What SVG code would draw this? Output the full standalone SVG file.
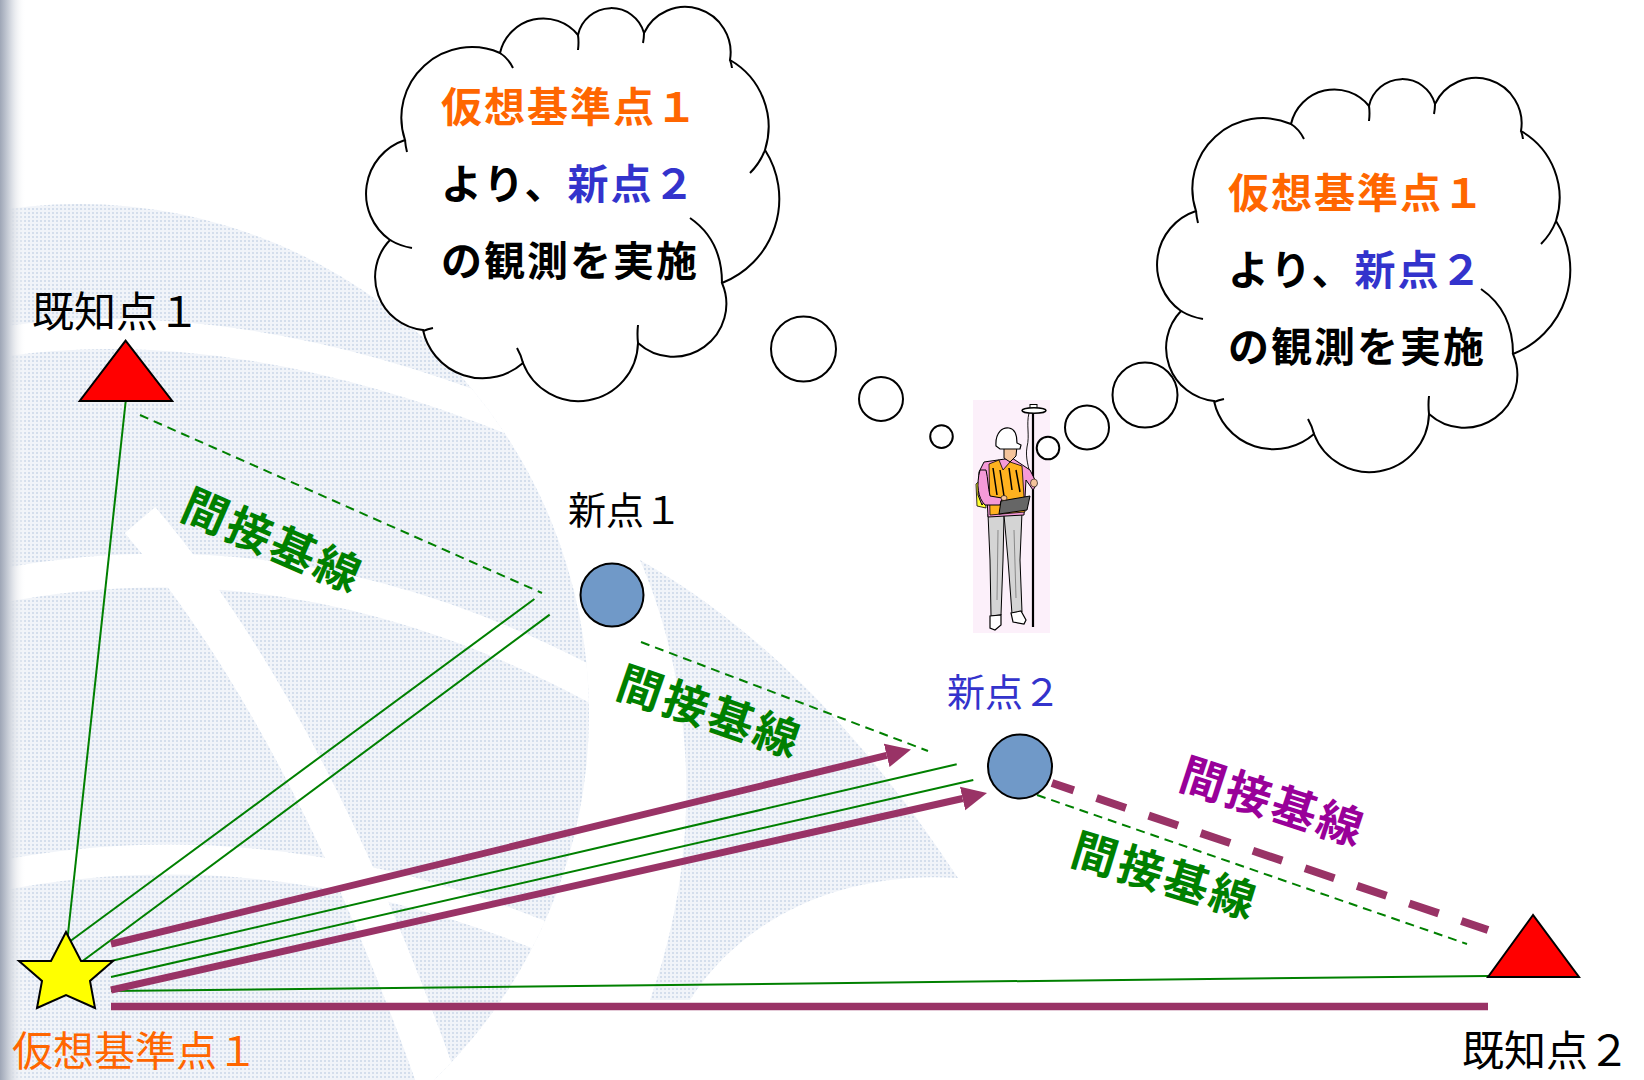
<svg xmlns="http://www.w3.org/2000/svg" xmlns:xlink="http://www.w3.org/1999/xlink" width="1644" height="1080" viewBox="0 0 1644 1080">
  <style>
    .lbl { font-family: 'Noto Sans CJK JP', sans-serif; font-weight: 400; }
    .bold { font-family: 'Noto Sans CJK JP', sans-serif; font-weight: 700; }
    .g-solid { stroke: #008000; stroke-width: 2; fill: none; }
    .g-dash { stroke: #008000; stroke-width: 2; fill: none; stroke-dasharray: 9 6; }
    .p-solid { stroke: #993366; stroke-width: 7; fill: none; }
    .p-dash { stroke: #993366; stroke-width: 8; fill: none; stroke-dasharray: 31 24; }
    .outline { stroke: #000; stroke-width: 2; }
    .cloud { fill: #fff; stroke: #000; stroke-width: 2; }
    .tail { fill: none; stroke: #000; stroke-width: 2; }
  </style>
  <defs>
    <pattern id="dots" width="4" height="4" patternUnits="userSpaceOnUse">
      <rect width="4" height="4" fill="#f1f4f9"/>
      <rect width="2" height="2" fill="#d4deec"/>
    </pattern>
    <linearGradient id="edge" x1="0" x2="1" y1="0" y2="0">
      <stop offset="0" stop-color="#9ea6b6"/>
      <stop offset="0.35" stop-color="#cdd2db"/>
      <stop offset="1" stop-color="#ffffff" stop-opacity="0"/>
    </linearGradient>
    <clipPath id="globeClip">
      <circle cx="79" cy="714" r="510"/>
    </clipPath>
    <marker id="arrowPurple" markerUnits="userSpaceOnUse" markerWidth="26" markerHeight="26" viewBox="0 0 26 26" refX="0" refY="13" orient="auto">
      <path d="M0,1 L25,13 L0,25 Z" fill="#993366"/>
    </marker>
    <!-- cloud callout body -->
    <path id="cloudOutline" d="M405,140 A70.5,70.5 0 0 1 500,53 A44.5,44.5 0 0 1 578,35 A34,34 0 0 1 644,33 A45.5,45.5 0 0 1 730,60 A77,77 0 0 1 765,150 A90.5,90.5 0 0 1 722,283 A52.8,52.8 0 0 1 638,343 A59.5,59.5 0 0 1 523,363 A61,61 0 0 1 423,330 A53.3,53.3 0 0 1 390,240 A56.6,56.6 0 0 1 405,140 Z"/>
    <!-- short inner arcs where the bumps meet -->
    <path id="cloudTails" d="M405,140 Q405.5,146 407,152 M500,53 Q508,58 513,68 M578,35 Q579,42 578,50 M644,33 Q644,38 643,43 M730,60 Q731.5,64 732,68 M765,150 Q760,163 750,173 M722,283 Q722,240 690,218 M638,343 Q637,334 638,325 M523,363 Q521,355 517,348 M423,331 Q428,329 433,328 M390,240 Q400,246 412,248"/>
  </defs>

  <rect width="1644" height="1080" fill="#fff"/>

  <!-- faint globe watermark -->
  <g id="watermark">
    <g clip-path="url(#globeClip)">
      <rect x="0" y="180" width="620" height="900" fill="url(#dots)"/>
      <g fill="none" stroke="#fff">
        <path d="M-20,345 Q240,300 560,440" stroke-width="30"/>
        <path d="M-20,590 Q300,520 620,700" stroke-width="34"/>
        <path d="M-20,880 Q300,810 640,980" stroke-width="30"/>
        <path d="M140,520 Q310,720 440,1090" stroke-width="40"/>
      </g>
    </g>
    <path d="M640,560 C780,640 880,760 958,878 C840,870 740,920 690,1000 L650,1000 C700,860 700,700 640,560 Z" fill="url(#dots)"/>
  </g>
  <rect x="0" y="0" width="26" height="1080" fill="url(#edge)"/>

  <!-- baselines -->
  <g id="connectors">
    <line class="g-solid" x1="125.6" y1="402" x2="67" y2="943"/>
    <line class="g-dash" x1="140" y1="415" x2="542" y2="593"/>
    <line class="g-solid" x1="67" y1="943.5" x2="534.4" y2="599"/>
    <line class="g-solid" x1="83" y1="960.7" x2="549.7" y2="614.6"/>
    <line class="g-dash" x1="641" y1="642" x2="928" y2="751"/>
    <line class="g-dash" x1="1037" y1="795" x2="1467" y2="944"/>
    <line class="g-solid" x1="111" y1="961" x2="956.7" y2="764.3"/>
    <line class="g-solid" x1="111" y1="977" x2="973.3" y2="780"/>
    <line class="g-solid" x1="111" y1="991" x2="1488" y2="976"/>
    <line class="p-solid" x1="111" y1="944" x2="886.7" y2="755.4" marker-end="url(#arrowPurple)"/>
    <line class="p-solid" x1="111" y1="990" x2="962.6" y2="798.5" marker-end="url(#arrowPurple)"/>
    <line class="p-solid" x1="111" y1="1006.5" x2="1488" y2="1006.5" style="stroke-width:7.5"/>
    <line class="p-dash" x1="1052" y1="783" x2="1488" y2="930" stroke-dashoffset="8"/>
  </g>

  <!-- points -->
  <g id="known-point-1">
    <polygon class="outline" points="125.6,340.7 79.7,401 172.2,401" fill="#ff0000"/>
    <text class="lbl" x="32" y="327" font-size="42" fill="#000">既知点１</text>
  </g>
  <g id="known-point-2">
    <polygon class="outline" points="1533,915 1488,977 1579,977" fill="#ff0000"/>
    <text class="lbl" x="1462" y="1066" font-size="42" fill="#000">既知点２</text>
  </g>
  <g id="virtual-reference-point-1">
    <polygon class="outline" points="66,932 81,961 113,961 90,981 95,1008 66,995 37,1008 42,981 19,961 51,961" fill="#ffff00"/>
    <text class="lbl" x="12" y="1066" font-size="41" fill="#ff6600">仮想基準点１</text>
  </g>
  <g id="new-point-1">
    <circle class="outline" cx="612" cy="595" r="31.5" fill="#7099c8"/>
    <text class="lbl" x="568" y="524" font-size="38" fill="#000">新点１</text>
  </g>
  <g id="new-point-2">
    <circle class="outline" cx="1020" cy="766.5" r="32" fill="#7099c8"/>
    <text class="lbl" x="947" y="706" font-size="38" fill="#3333cc">新点２</text>
  </g>

  <!-- baseline labels -->
  <g id="baseline-labels" class="bold" font-size="45" text-anchor="middle" dominant-baseline="central" letter-spacing="3">
    <text x="274" y="538" transform="rotate(23.5 274 538)" fill="#008000">間接基線</text>
    <text x="711" y="709" transform="rotate(19 711 709)" fill="#008000">間接基線</text>
    <text x="1274" y="799" transform="rotate(18 1274 799)" fill="#990099">間接基線</text>
    <text x="1166" y="873" transform="rotate(17 1166 873)" fill="#008000">間接基線</text>
  </g>

  <!-- thought clouds -->
  <g id="cloud-1">
    <use xlink:href="#cloudOutline" class="cloud"/>
    <use xlink:href="#cloudTails" class="tail"/>
    <g class="bold" font-size="41" letter-spacing="2">
      <text x="441" y="122" fill="#ff6600">仮想基準点１</text>
      <text x="441" y="199" fill="#000">より、<tspan fill="#3333cc">新点２</tspan></text>
      <text x="441" y="276" fill="#000">の観測を実施</text>
    </g>
  </g>
  <g id="cloud-1-bubbles">
    <circle class="cloud" cx="803.5" cy="349" r="32.5"/>
    <circle class="cloud" cx="881" cy="399" r="22"/>
    <circle class="cloud" cx="941.5" cy="436.6" r="11.3"/>
  </g>
  <g id="cloud-2">
    <g transform="translate(791 71)">
      <use xlink:href="#cloudOutline" class="cloud"/>
      <use xlink:href="#cloudTails" class="tail"/>
    </g>
    <g class="bold" font-size="41" letter-spacing="2">
      <text x="1228" y="208" fill="#ff6600">仮想基準点１</text>
      <text x="1228" y="285" fill="#000">より、<tspan fill="#3333cc">新点２</tspan></text>
      <text x="1228" y="362" fill="#000">の観測を実施</text>
    </g>
  </g>

  <!-- surveyor with GNSS pole -->
  <g id="surveyor">
    <rect x="973" y="400" width="77" height="233" fill="#fcf0fa"/>
    <line x1="1033" y1="412" x2="1033" y2="627" stroke="#000" stroke-width="2.2"/>
    <rect x="1030" y="404.5" width="7" height="4" fill="#fff" stroke="#000" stroke-width="1"/>
    <ellipse cx="1034" cy="410.5" rx="12" ry="2.8" fill="#fff" stroke="#000" stroke-width="1.5"/>
    <path d="M1029,413 C1026,425 1030,435 1027,447 C1025,458 1029,468 1031,478" fill="none" stroke="#000" stroke-width="0.9"/>
    <path d="M976,484 L984,477 L986,508 L977,506 Z" fill="#ffff33" stroke="#000" stroke-width="0.8"/>
    <path d="M988,514 L1004,515 L1003,560 L1001,615 L991,616 L990,560 Z" fill="#d4d4d4" stroke="#000" stroke-width="1"/>
    <path d="M1004,515 L1022,512 L1020,560 L1022,612 L1012,614 L1008,560 Z" fill="#d4d4d4" stroke="#000" stroke-width="1"/>
    <path d="M998,530 L997,600 M1014,530 L1016,598" stroke="#555" stroke-width="0.6" fill="none"/>
    <path d="M990,616 L1001,615 L1001,625 L995,630 L990,628 Z" fill="#fff" stroke="#000" stroke-width="1.2"/>
    <path d="M1011,613 L1021,611 L1026,620 L1024,624 L1013,622 Z" fill="#fff" stroke="#000" stroke-width="1.2"/>
    <path d="M984,462 L1012,458 L1030,470 L1037,484 L1033,490 L1026,480 L1024,515 L988,517 L987,498 L982,505 L978,495 L979,472 Z" fill="#f59ad8" stroke="#000" stroke-width="1"/>
    <path d="M989,464 L999,460 L1003,470 L1010,462 L1022,466 L1025,512 L990,515 Z" fill="#ffb21f" stroke="#000" stroke-width="0.8"/>
    <path d="M993,468 L997,495 M1000,470 L1004,496 M1016,470 L1020,492 M1009,468 L1012,490" stroke="#000" stroke-width="1.5" fill="none"/>
    <path d="M980,470 C976,485 978,498 985,505 L1000,505 L1002,498 L990,496 C988,488 988,478 986,470 Z" fill="#f59ad8" stroke="#000" stroke-width="1"/>
    <path d="M1001,501 L1030,496 L1027,510 L999,514 Z" fill="#666" stroke="#000" stroke-width="1"/>
    <ellipse cx="1004" cy="498" rx="3" ry="2.5" fill="#f5c49c" stroke="#000" stroke-width="0.6"/>
    <ellipse cx="1034" cy="483" rx="3.5" ry="4" fill="#f5c49c" stroke="#000" stroke-width="0.6"/>
    <path d="M1004,444 L1017,446 L1016,456 L1010,462 L1004,458 Z" fill="#f5c49c" stroke="#000" stroke-width="1"/>
    <path d="M996,446 C995,432 1003,427 1009,428 C1015,429 1017,436 1017,443 L1021,445 L1020,449 L1000,449 Z" fill="#fff" stroke="#000" stroke-width="1.2"/>
  </g>

  <g id="cloud-2-bubbles">
    <circle class="cloud" cx="1145" cy="395" r="32.5"/>
    <circle class="cloud" cx="1087" cy="427.5" r="22"/>
    <circle class="cloud" cx="1048" cy="448" r="11.3"/>
  </g>
</svg>
